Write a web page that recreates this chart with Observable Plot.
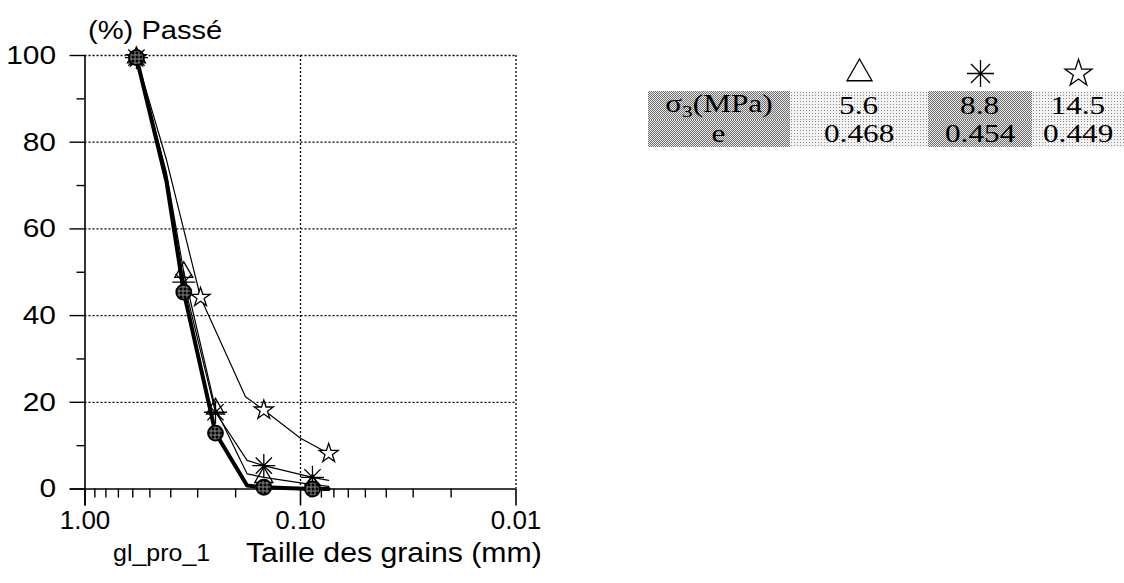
<!DOCTYPE html>
<html>
<head>
<meta charset="utf-8">
<script src="https://cdn.jsdelivr.net/npm/d3@7"></script>
<script src="https://cdn.jsdelivr.net/npm/@observablehq/plot@0.6"></script>
<style>
  html, body { margin: 0; padding: 0; background: #fff; }
  body { width: 1124px; height: 583px; position: relative; overflow: hidden; font-family: "Liberation Sans", Arial, sans-serif; }
  #chart { position: absolute; left: 0; top: 0; }
  .lbl { position: absolute; white-space: nowrap; line-height: 1; color: #000; transform-origin: 0 50%; }
  #legend { position: absolute; left: 648px; top: 55px; width: 476px; table-layout: fixed; border-collapse: collapse; font-family: "Liberation Serif", "Times New Roman", serif; font-size: 25px; }
  #legend td { padding: 0; text-align: center; line-height: 1; overflow: visible; white-space: nowrap; }
  #legend td span { display: inline-block; transform: scaleX(1.25); }
  #legend tr.sym td { height: 36px; vertical-align: middle; }
  #legend tr.sym svg { display: block; margin: 0 auto; }
  #legend tr.row td { height: 27px; }
  .dark { background: repeating-conic-gradient(#707070 0 25%, #e6e6e6 0 50%) 0 0 / 2px 2px; }
  .light { background: radial-gradient(circle, #8a8a8a 0.7px, transparent 0.9px) 0 0 / 3px 3px, #f2f2f2; }
</style>
</head>
<body>
<div id="chart"></div>
<div class="lbl" style="left:88px; top:17px; font-size:26px; transform: scaleX(1.12);">(%) Passé</div>
<div class="lbl" style="left:113px; top:541px; font-size:24px; transform: scaleX(1.04);">gl_pro_1</div>
<div class="lbl" style="left:246px; top:539px; font-size:28px; transform: scaleX(1.08);">Taille des grains (mm)</div>
<table id="legend">
  <colgroup><col style="width:142px"><col style="width:138px"><col style="width:104px"><col style="width:92px"></colgroup>
</table>
<script>
// ---- data ----
const sizes = [0.577, 0.419, 0.348, 0.248, 0.177, 0.148, 0.088, 0.074];   // mm
const passedInitial = [99.5, 71, 45.4, 12.9, 0.8, 0.4, 0, 0];            // thick, circles
const passed56 = [99.5, 73, 50, 18.5, 3.5, 2.7, 1, 0.6];                  // triangles
const passed88 = [99.5, 72, 47.7, 17.7, 6.6, 5.4, 2.7, 2];                // asterisks
const markedA = [true, false, true, true, false, true, true, false];
const sizesStar = [0.577, 0.419, 0.291, 0.180, 0.148, 0.100, 0.074];
const passed145 = [99.5, 76, 44.2, 21.3, 18.2, 11.7, 8.2];                // stars
const markedStar = [true, false, true, false, true, false, true];

const xTicks = [1, 0.1, 0.01];
const xMinor = [0.9, 0.8, 0.7, 0.6, 0.5, 0.4, 0.3, 0.2, 0.09, 0.08, 0.07, 0.06, 0.05, 0.04, 0.03, 0.02];
const yTicks = [0, 20, 40, 60, 80, 100];
const yMinor = [10, 30, 50, 70, 90];
const yGrid = [20, 40, 60, 80, 100];
const xGrid = [0.1, 0.01];

const sigmaLabels = ["5.6", "8.8", "14.5"];
const voidRatios = ["0.468", "0.454", "0.449"];

// ---- symbols ----
const asterisk8 = {
  draw(ctx, size) {
    const r = Math.sqrt(size / Math.PI);
    for (let i = 0; i < 4; i++) {
      const a = i * Math.PI / 4;
      ctx.moveTo(r * Math.cos(a), r * Math.sin(a));
      ctx.lineTo(-r * Math.cos(a), -r * Math.sin(a));
    }
  }
};

const rows = (xs, ys, flags) => xs.map((d, i) => ({size: d, pct: ys[i], marked: flags[i]}));
const sInit = rows(sizes, passedInitial, markedA);
const s56 = rows(sizes, passed56, markedA);
const s88 = rows(sizes, passed88, markedA);
const s145 = rows(sizesStar, passed145, markedStar);
const marked = (a) => a.filter(d => d.marked);

const grid = {stroke: "#000", strokeOpacity: 1, strokeWidth: 1.3, strokeDasharray: "2,2"};

const chart = Plot.plot({
  width: 560,
  height: 583,
  marginLeft: 84.5,
  marginRight: 44.5,
  marginTop: 55,
  marginBottom: 94.5,
  style: {fontFamily: "Liberation Sans, Arial, sans-serif", fontSize: "26px", color: "#000", background: "transparent"},
  x: {type: "log", domain: [1, 0.01], label: null},
  y: {domain: [0, 100], label: null},
  marks: [
    Plot.gridY(yGrid, grid),
    Plot.gridX(xGrid, grid),
    Plot.ruleX([1], {y1: -3.9, y2: 100, stroke: "#000", strokeWidth: 1.6}),
    Plot.ruleY([0], {x1: 1.17, x2: 0.01, stroke: "#000", strokeWidth: 1.6}),
    Plot.axisY({ticks: yTicks, tickSize: 15, tickPadding: 14, strokeWidth: 1.4, label: null}),
    Plot.axisY({ticks: yMinor, tickSize: 8, tickFormat: () => "", strokeWidth: 1.4, label: null}),
    Plot.axisX({ticks: xTicks, tickSize: 17, tickPadding: 5, tickFormat: d3.format(".2f"), strokeWidth: 1.6, label: null}),
    Plot.axisX({ticks: xMinor, tickSize: 9, tickFormat: () => "", strokeWidth: 1.4, label: null}),
    Plot.line(s145, {x: "size", y: "pct", stroke: "#000", strokeWidth: 1.2}),
    Plot.line(s56, {x: "size", y: "pct", stroke: "#000", strokeWidth: 1.2}),
    Plot.line(s88, {x: "size", y: "pct", stroke: "#000", strokeWidth: 1.2}),
    Plot.line(sInit, {x: "size", y: "pct", stroke: "#000", strokeWidth: 4}),
    Plot.dot(marked(s145), {x: "size", y: "pct", symbol: "star", r: 6, fill: "#fff", stroke: "#000", strokeWidth: 1.3}),
    Plot.dot(marked(s56), {x: "size", y: "pct", symbol: "triangle", r: 6.7, fill: "none", stroke: "#000", strokeWidth: 1.3}),
    Plot.dot(marked(s88), {x: "size", y: "pct", symbol: asterisk8, r: 11.5, fill: "none", stroke: "#000", strokeWidth: 1.3}),
    Plot.dot(marked(sInit), {x: "size", y: "pct", symbol: "circle", r: 7.5, fill: "url(#halftone)", stroke: "#000", strokeWidth: 1.8})
  ]
});

// halftone pattern for the circle markers
const svg = d3.select(chart);
const pat = svg.insert("defs", ":first-child").append("pattern")
  .attr("id", "halftone").attr("patternUnits", "userSpaceOnUse")
  .attr("width", 4).attr("height", 4);
pat.append("rect").attr("width", 4).attr("height", 4).attr("fill", "#000");
pat.append("rect").attr("x", 2).attr("y", 0).attr("width", 1).attr("height", 4).attr("fill", "#8a8a8a");
pat.append("rect").attr("x", 0).attr("y", 2).attr("width", 4).attr("height", 1).attr("fill", "#8a8a8a");
// the scanned y tick labels are slightly wider than the font
svg.selectAll("g[aria-label='y-axis tick label'] text").each(function () {
  const t = this.getAttribute("transform") || "";
  this.setAttribute("transform", t + " scale(1.15,1)");
});
document.getElementById("chart").append(chart);

// ---- legend table ----
const symbolPlot = (symbol, r) => Plot.plot({
  width: 40, height: 34, margin: 0, x: {axis: null}, y: {axis: null},
  marks: [Plot.dot([0], {frameAnchor: "middle", symbol, r, fill: "none", stroke: "#000", strokeWidth: 1.3})]
});
const legendSymbols = [["triangle", 9.3], [asterisk8, 13.5], ["star", 8.5]];
const table = d3.select("#legend");
const symRow = table.append("tr").attr("class", "sym");
symRow.append("td");
legendSymbols.forEach(([s, r]) => {
  symRow.append("td").node().append(symbolPlot(s, r));
});
const r1 = table.append("tr").attr("class", "row");
r1.append("td").attr("class", "dark").append("span").html("σ<sub style='font-size:17px;vertical-align:-5px'>3</sub>(MPa)");
sigmaLabels.forEach((v, i) => r1.append("td").attr("class", i === 1 ? "dark" : "light").append("span").text(v));
const r2 = table.append("tr").attr("class", "row");
r2.append("td").attr("class", "dark").append("span").text("e");
voidRatios.forEach((v, i) => r2.append("td").attr("class", i === 1 ? "dark" : "light").append("span").text(v));
</script>
</body>
</html>
